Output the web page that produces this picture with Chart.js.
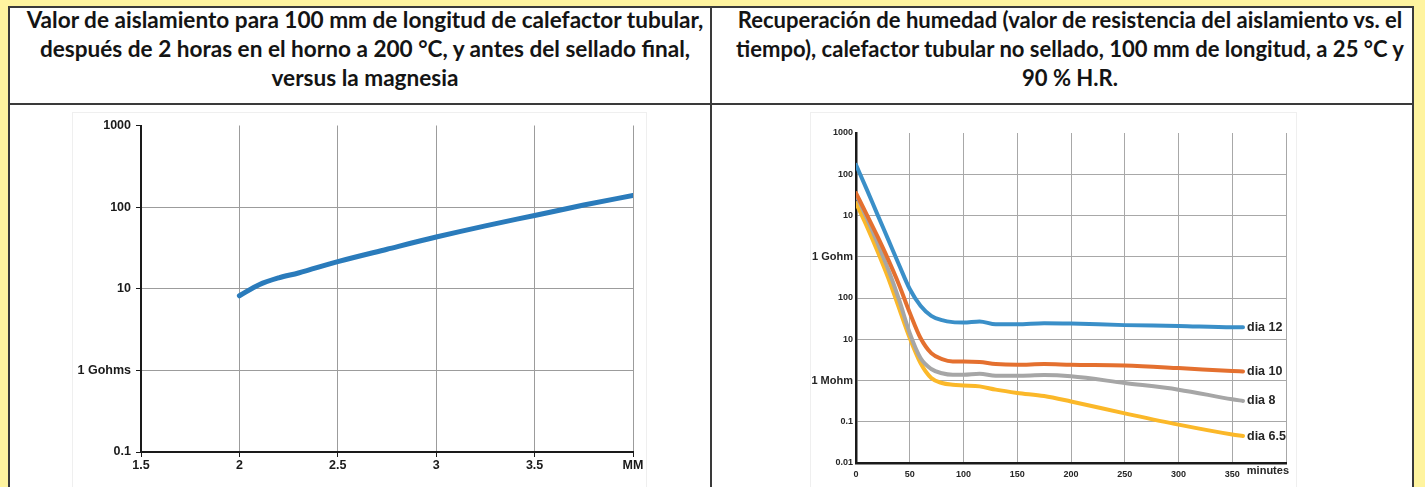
<!DOCTYPE html>
<html>
<head>
<meta charset="utf-8">
<script src="https://cdn.jsdelivr.net/npm/chart.js@4.4.0/dist/chart.umd.min.js"></script>
<style>
  html, body { margin: 0; padding: 0; }
  body { width: 1425px; height: 487px; background: #fff49f; position: relative; overflow: hidden; }
  .cell { position: absolute; background: #fff; }
  .rule { position: absolute; background: #3a3a3a; }
  .head { position: absolute; top: 5px; text-align: center; font-family: Lato, "Open Sans", sans-serif;
          font-weight: bold; font-size: 18px; line-height: 29px; color: #141414; white-space: nowrap; }
  .head span { display: inline-block; }
  canvas { position: absolute; background: #fff; outline: 1px solid #efefef; }
</style>
</head>
<body>
<div class="cell" style="left:10px; top:8px; width:1402px; height:479px;"></div>
<div class="rule" style="left:8px; top:6px; width:1406px; height:2px;"></div>
<div class="rule" style="left:8px; top:6px; width:2px; height:481px;"></div>
<div class="rule" style="left:1412px; top:6px; width:2px; height:481px;"></div>
<div class="rule" style="left:710px; top:6px; width:2px; height:481px;"></div>
<div class="rule" style="left:8px; top:103px; width:1406px; height:2px;"></div>

<div class="head" id="headLeft" style="left:15px; width:700px;">
  <span>Valor de aislamiento para 100 mm de longitud de calefactor tubular,</span><br>
  <span>después de 2 horas en el horno a 200 °C, y antes del sellado final,</span><br>
  <span>versus la magnesia</span>
</div>
<div class="head" id="headRight" style="left:720px; width:700px;">
  <span>Recuperación de humedad (valor de resistencia del aislamiento vs. el</span><br>
  <span>tiempo), calefactor tubular no sellado, 100 mm de longitud, a 25 °C y</span><br>
  <span>90 % H.R.</span>
</div>

<canvas id="magnesia" width="573" height="374" style="left:73px; top:113px;"></canvas>
<canvas id="humidity" width="485" height="374" style="left:811px; top:113px;"></canvas>

<script>
// insulation value vs magnesia (GOhm, log scale)
const magX = [2, 2.1, 2.2, 2.3, 2.5, 2.75, 3, 3.25, 3.5, 3.75, 4];
const magY = [8.2, 11.2, 13.6, 15.6, 21.5, 30.5, 43, 59, 79, 106, 139];
const magXTicks = [1.5, 2, 2.5, 3, 3.5, 4];
const magYTicks = [0.1, 1, 10, 100, 1000];

// humidity recovery, values in MOhm
const minutes = [0, 10, 20, 30, 40, 50, 60, 70, 80, 90, 100, 115, 130, 150, 175, 200, 250, 300, 350, 360];
const dia12 = [170000, 43000, 10500, 2600, 640, 165, 65, 37, 29, 26, 25.5, 27, 23, 23, 24.5, 24, 22, 21, 19.5, 19.5];
const dia10 = [35000, 10500, 3100, 850, 210, 44, 10.7, 4.6, 3.3, 2.9, 2.9, 2.8, 2.5, 2.4, 2.5, 2.4, 2.3, 2.0, 1.7, 1.66];
const dia8 = [32000, 8700, 2150, 490, 92, 14, 3.5, 1.9, 1.5, 1.38, 1.38, 1.46, 1.31, 1.31, 1.35, 1.26, 0.87, 0.6, 0.35, 0.32];
const dia65 = [20000, 5500, 1360, 305, 57, 10.7, 2.65, 1.15, 0.87, 0.79, 0.76, 0.72, 0.6, 0.5, 0.42, 0.31, 0.16, 0.085, 0.049, 0.045];
const seriesNames = ['dia 12', 'dia 10', 'dia 8', 'dia 6.5'];
const seriesColors = ['#3a8fc8', '#e4702f', '#a6a6a6', '#fbb829'];
const minuteTicks = [0, 50, 100, 150, 200, 250, 300, 350, 400];
const ohmTicks = [0.01, 0.1, 1, 10, 100, 1000, 10000, 100000, 1000000];
const ohmLabels = ['0.01', '0.1', '1 Mohm', '10', '100', '1 Gohm', '10', '100', '1000'];

const family = '"Liberation Sans", Arial, sans-serif';

// make both header blocks fit the width of the original lines
function fitHead(id, target) {
  const el = document.getElementById(id);
  const w = Math.max(...[...el.querySelectorAll('span')].map(s => s.getBoundingClientRect().width));
  el.style.fontSize = (18 * target / w).toFixed(2) + 'px';
}
fitHead('headLeft', 677);
fitHead('headRight', 668);

function points(xs, ys) {
  return xs.map((x, i) => ({ x: x, y: ys[i] }));
}

// Chart 1 - magnesia
new Chart(document.getElementById('magnesia').getContext('2d'), {
  type: 'line',
  data: {
    datasets: [{
      data: points(magX, magY),
      borderColor: '#2a7bbb',
      borderWidth: 5,
      borderCapStyle: 'round',
      pointRadius: 0,
      cubicInterpolationMode: 'monotone'
    }]
  },
  options: {
    responsive: false,
    animation: false,
    devicePixelRatio: 1,
    layout: { padding: { left: 0, right: 13, top: 10, bottom: 0 } },
    plugins: { legend: { display: false }, tooltip: { enabled: false } },
    scales: {
      x: {
        type: 'linear', min: 1.5, max: 4,
        afterBuildTicks: s => { s.ticks = magXTicks.map(v => ({ value: v })); },
        afterFit: s => { s.height = 35; },
        border: { color: '#1a1a1a', width: 2 },
        grid: { color: '#9c9c9c', lineWidth: 1, tickColor: '#1a1a1a', tickLength: 5 },
        ticks: {
          color: '#1a1a1a', padding: 1, maxRotation: 0,
          font: { family: family, size: 12.5, weight: 'bold' },
          callback: v => v === 4 ? 'MM' : String(v)
        }
      },
      y: {
        type: 'logarithmic', min: 0.1, max: 1000,
        afterBuildTicks: s => { s.ticks = magYTicks.map(v => ({ value: v })); },
        afterFit: s => { s.width = 68; },
        border: { color: '#1a1a1a', width: 2 },
        grid: {
          color: c => c.tick && c.tick.value === 1000 ? 'rgba(0,0,0,0)' : '#9c9c9c',
          lineWidth: 1, tickColor: '#1a1a1a', tickLength: 5
        },
        ticks: {
          color: '#1a1a1a', padding: 5,
          font: { family: family, size: 12.5, weight: 'bold' },
          callback: v => v === 1 ? '1 Gohms' : String(v)
        }
      }
    }
  }
});

// labels at the line ends and the unit at the end of the x axis
const endLabels = {
  id: 'endLabels',
  afterDatasetsDraw(chart) {
    const ctx = chart.ctx;
    ctx.save();
    ctx.fillStyle = '#262626';
    ctx.textBaseline = 'middle';
    ctx.font = 'bold 12.5px ' + family;
    chart.data.datasets.forEach((ds, i) => {
      const pts = chart.getDatasetMeta(i).data;
      const last = pts[pts.length - 1];
      ctx.fillText(ds.label, last.x + 4, last.y);
    });
    const xs = chart.scales.x;
    ctx.font = 'bold 11px ' + family;
    ctx.textAlign = 'right';
    ctx.fillText('minutes', xs.right + 3, xs.top + 8);
    ctx.restore();
  }
};

// Chart 2 - humidity recovery
const humiditySets = [dia12, dia10, dia8, dia65].map((vals, i) => ({
  label: seriesNames[i],
  data: points(minutes, vals),
  borderColor: seriesColors[i],
  borderWidth: 4,
  borderCapStyle: 'round',
  pointRadius: 0,
  cubicInterpolationMode: 'monotone'
}));

new Chart(document.getElementById('humidity').getContext('2d'), {
  type: 'line',
  data: { datasets: humiditySets },
  plugins: [endLabels],
  options: {
    responsive: false,
    animation: false,
    devicePixelRatio: 1,
    layout: { padding: { left: 0, right: 10, top: 20, bottom: 0 } },
    plugins: { legend: { display: false }, tooltip: { enabled: false } },
    scales: {
      x: {
        type: 'linear', min: 0, max: 400,
        afterBuildTicks: s => { s.ticks = minuteTicks.map(v => ({ value: v })); },
        afterFit: s => { s.height = 24; },
        border: { color: '#1a1a1a', width: 2.5 },
        grid: { color: '#a8a8a8', lineWidth: 1, drawTicks: false },
        ticks: {
          color: '#262626', padding: 6, maxRotation: 0,
          font: { family: family, size: 9, weight: 'bold' },
          callback: v => v === 400 ? '' : String(v)
        }
      },
      y: {
        type: 'logarithmic', min: 0.01, max: 1000000,
        afterBuildTicks: s => { s.ticks = ohmTicks.map(v => ({ value: v })); },
        afterFit: s => { s.width = 45; },
        border: { color: '#1a1a1a', width: 2.5 },
        grid: {
          color: c => c.tick && c.tick.value === 1000000 ? 'rgba(0,0,0,0)' : '#a8a8a8',
          lineWidth: 1, drawTicks: false
        },
        ticks: {
          color: '#262626', padding: 3,
          font: c => ({ family: family, weight: 'bold',
            size: c.tick && (c.tick.value === 1 || c.tick.value === 1000) ? 11 : 9 }),
          callback: v => ohmLabels[ohmTicks.indexOf(v)]
        }
      }
    }
  }
});
</script>
</body>
</html>
